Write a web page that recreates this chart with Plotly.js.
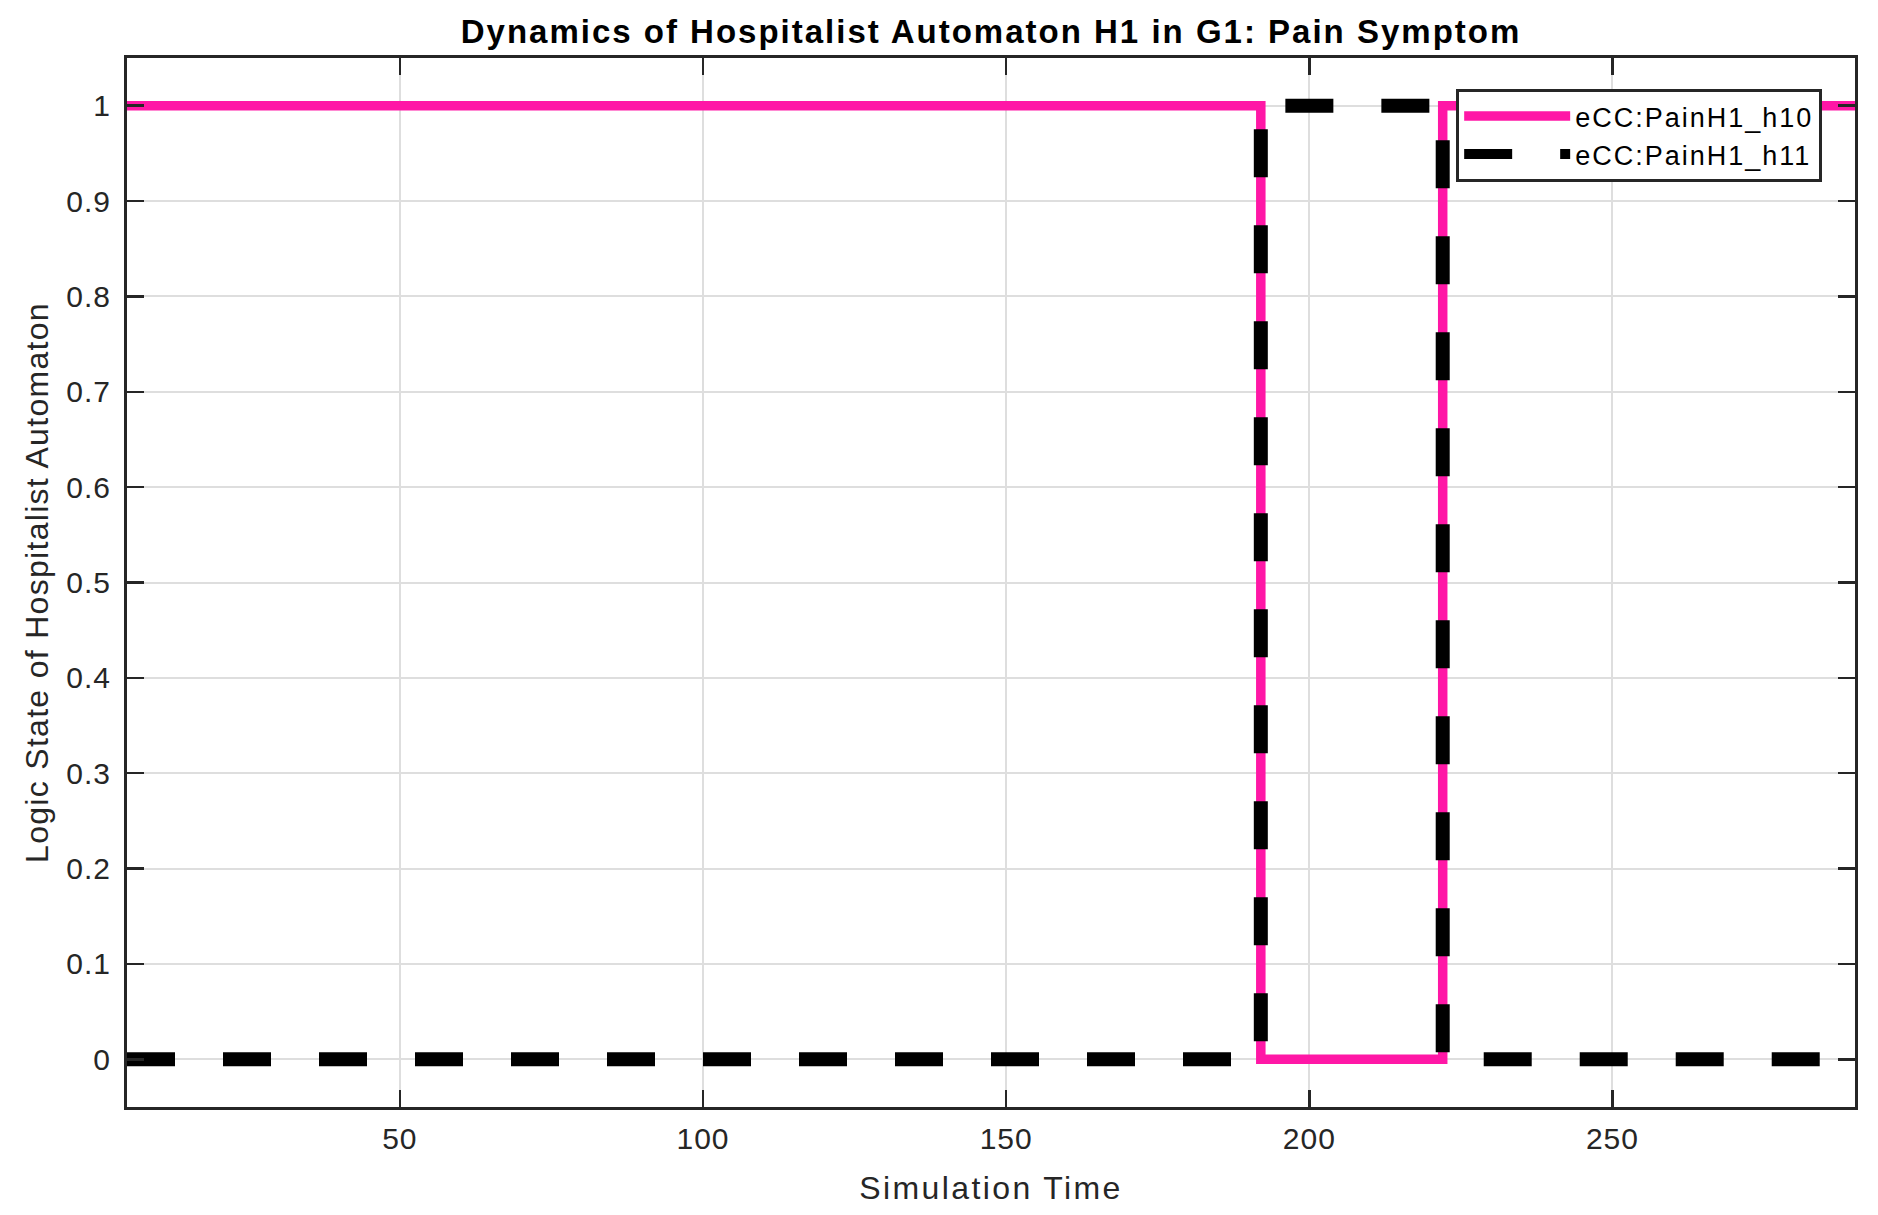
<!DOCTYPE html>
<html>
<head>
<meta charset="utf-8">
<script src="https://cdn.plot.ly/plotly-3.0.1.min.js"></script>
<style>
  html, body { margin: 0; padding: 0; background: #ffffff; }
  #chart { width: 1878px; height: 1215px; }
  .gtitle { letter-spacing: 2px; }
  .xtitle { letter-spacing: 2.4px; }
  .ytitle { letter-spacing: 1.3px; }
  .legendtext { letter-spacing: 2px; }
  .xtick text, .ytick text { letter-spacing: 1px; }
</style>
</head>
<body>
<div id="chart"></div>
<script>
// Change-points of the two logic-state signals (step functions, held until next point)
const simTime = [5, 192, 222, 290];
const stateH10 = [1, 0, 1, 1];
const stateH11 = [0, 1, 0, 0];
const seriesNames = ['eCC:PainH1_h10', 'eCC:PainH1_h11'];
const xTickVals = [50, 100, 150, 200, 250];
const yTickVals = [0, 0.1, 0.2, 0.3, 0.4, 0.5, 0.6, 0.7, 0.8, 0.9, 1];

const FONT = '"Liberation Sans", Arial, Helvetica, sans-serif';
const AXC = '#262626';

const traces = [
  {
    x: simTime, y: stateH10, name: seriesNames[0],
    type: 'scatter', mode: 'lines',
    line: { shape: 'hv', color: '#ff17a6', width: 9.5 }
  },
  {
    x: simTime, y: stateH11, name: seriesNames[1],
    type: 'scatter', mode: 'lines',
    line: { shape: 'hv', color: '#000000', width: 14, dash: '48px,48px' }
  }
];

const axisCommon = {
  showline: true, linecolor: AXC, linewidth: 3, mirror: 'ticks',
  ticks: 'inside', ticklen: 17, tickwidth: 2.5, tickcolor: AXC,
  showgrid: true, gridcolor: '#dedede', gridwidth: 2,
  zeroline: false,
  tickfont: { family: FONT, size: 30, color: AXC }
};

const layout = {
  width: 1878, height: 1215,
  paper_bgcolor: '#ffffff', plot_bgcolor: '#ffffff',
  margin: { l: 127, r: 23, t: 58, b: 108, pad: 0 },
  title: {
    text: '<b>Dynamics of Hospitalist Automaton H1 in G1: Pain Symptom</b>',
    font: { family: FONT, size: 33, color: '#000000' },
    x: 0.5, xref: 'paper', xanchor: 'center',
    y: 1 - 31 / 1215, yref: 'container', yanchor: 'middle'
  },
  xaxis: Object.assign({}, axisCommon, {
    range: [5, 290],
    tickmode: 'array', tickvals: xTickVals,
    ticklabelstandoff: 3,
    title: { text: 'Simulation Time', font: { family: FONT, size: 32, color: AXC }, standoff: 23 }
  }),
  yaxis: Object.assign({}, axisCommon, {
    range: [-0.05, 1.05],
    tickmode: 'array', tickvals: yTickVals,
    ticklabelstandoff: 7,
    title: { text: 'Logic State of Hospitalist Automaton', font: { family: FONT, size: 32, color: AXC }, standoff: 9 }
  }),
  showlegend: true,
  legend: {
    x: 0.981, xanchor: 'right', y: 0.9705, yanchor: 'top',
    bgcolor: '#ffffff', bordercolor: AXC, borderwidth: 3,
    font: { family: FONT, size: 27, color: '#000000' },
    itemwidth: 106
  }
};

Plotly.newPlot('chart', traces, layout, { displayModeBar: false, staticPlot: true });
</script>
</body>
</html>
